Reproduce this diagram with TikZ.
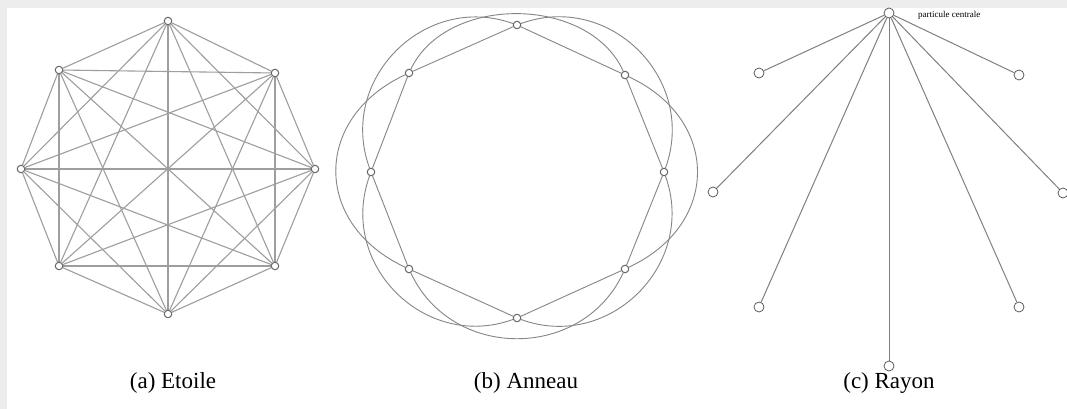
\documentclass[tikz,border=0pt]{standalone}
\usepackage{fontspec}
\setmainfont{Liberation Serif}
\usetikzlibrary{backgrounds}
\begin{document}
\begin{tikzpicture}[x=1pt,y=-1pt,
  pa/.style={circle, draw=black!60, fill=white, line width=1pt, inner sep=0pt, minimum size=7.5pt},
  pc/.style={circle, draw=black!70, fill=white, line width=0.7pt, inner sep=0pt, minimum size=10pt},
  linkA/.style={draw=black!38, line width=1.1pt},
  linkB/.style={draw=black!48, line width=0.9pt},
  arcB/.style={draw=black!48, line width=0.9pt, bend left=65},
  spoke/.style={draw=black!50, line width=1pt},
  capt/.style={font=\fontsize{23}{26}\selectfont, inner sep=0pt},
  tiny/.style={font=\fontsize{9}{10}\selectfont, inner sep=0pt, anchor=west}
]
\useasboundingbox (0,0) rectangle (1067,409);
\begin{scope}[on background layer]
  \fill[black!7] (0,0) rectangle (1067,409);
  \fill[white] (7,8) rectangle (1067,409);
\end{scope}

% ---------- (a) Etoile ----------
\node[pa] (a1) at (168,21) {};
\node[pa] (a2) at (275,73) {};
\node[pa] (a3) at (315,169) {};
\node[pa] (a4) at (275,266) {};
\node[pa] (a5) at (168,314) {};
\node[pa] (a6) at (59,266) {};
\node[pa] (a7) at (21,169) {};
\node[pa] (a8) at (59,70) {};
\begin{scope}[on background layer]
  \foreach \i in {1,...,7}{
    \pgfmathtruncatemacro\k{\i+1}
    \foreach \j in {\k,...,8}{
      \draw[linkA] (a\i) -- (a\j);
    }
  }
\end{scope}

% ---------- (b) Anneau ----------
\node[pa] (b1) at (517,25) {};
\node[pa] (b2) at (625,75) {};
\node[pa] (b3) at (664,172) {};
\node[pa] (b4) at (625,269) {};
\node[pa] (b5) at (517,318) {};
\node[pa] (b6) at (409,269) {};
\node[pa] (b7) at (371,172) {};
\node[pa] (b8) at (409,73) {};
\begin{scope}[on background layer]
  \draw[linkB] (b1) -- (b2) -- (b3) -- (b4) -- (b5) -- (b6) -- (b7) -- (b8) -- (b1);
  \draw[arcB, looseness=1.18] (b1) to (b3);
  \draw[arcB, looseness=1.36] (b2) to (b4);
  \draw[arcB, looseness=1.18] (b3) to (b5);
  \draw[arcB, looseness=1.17] (b4) to (b6);
  \draw[arcB, looseness=1.18] (b5) to (b7);
  \draw[arcB, looseness=1.36] (b6) to (b8);
  \draw[arcB, looseness=1.18] (b7) to (b1);
  \draw[arcB, looseness=1.00] (b8) to (b2);
\end{scope}

% ---------- (c) Rayon ----------
\node[pc] (c0) at (889,13) {};
\node[pc] (c1) at (1019,75) {};
\node[pc] (c2) at (1063,193) {};
\node[pc] (c3) at (1019,307) {};
\node[pc] (c4) at (889,366) {};
\node[pc] (c5) at (759,307) {};
\node[pc] (c6) at (713,192) {};
\node[pc] (c7) at (759,73) {};
\begin{scope}[on background layer]
  \foreach \i in {1,...,7}{ \draw[spoke] (c0) -- (c\i); }
\end{scope}
\node[tiny] (lab) at (918,15) {particule centrale};

% ---------- captions ----------
\node[capt] (ca) at (173,383) {(a) Etoile};
\node[capt] (cb) at (526,383) {(b) Anneau};
\node[capt] (cc) at (889,383) {(c) Rayon};
\end{tikzpicture}
\end{document}
